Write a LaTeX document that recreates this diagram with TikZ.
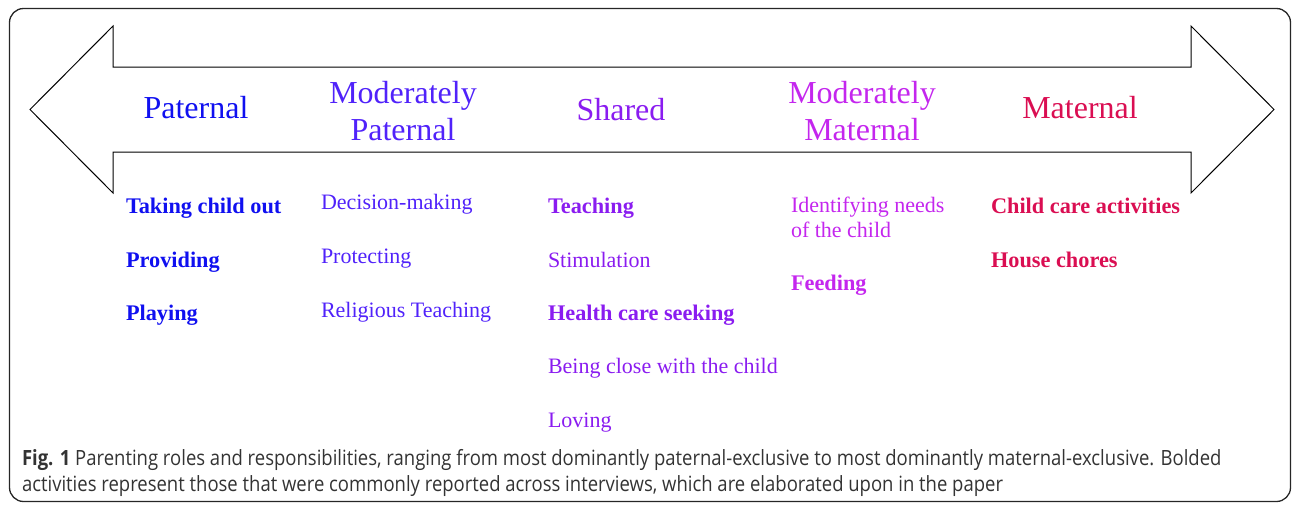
\documentclass[tikz,border=0pt]{standalone}
\usepackage{fontspec}
\setmainfont{Liberation Serif}
\newfontfamily\capfont[FakeStretch=0.88]{Open Sans}
\definecolor{cpat}{HTML}{1010F0}
\definecolor{cmpat}{HTML}{5022FA}
\definecolor{cshr}{HTML}{8A1CF0}
\definecolor{cmmat}{HTML}{C426EE}
\definecolor{cmat}{HTML}{DA0E52}
\definecolor{ccap}{HTML}{333333}
\begin{document}
\begin{tikzpicture}[x=1pt,y=-1pt,
  every node/.style={inner sep=0pt, outer sep=0pt},
  head/.style={font=\fontsize{32}{37}\selectfont, align=center, anchor=base},
  item/.style={font=\fontsize{22}{25}\selectfont, anchor=base west, align=left},
  bitem/.style={font=\fontsize{22.3}{25}\selectfont\bfseries, anchor=base west, align=left},
  captext/.style={font=\capfont\fontsize{21}{26}\selectfont, text=ccap, anchor=base west, align=left}]
\useasboundingbox (0,0) rectangle (1292,504);
% frame
\draw[line width=1.3pt, draw=black!85, rounded corners=14pt] (9.5,8.5) rectangle (1290.5,501.5);
% double arrow
\draw[line width=1pt, line join=miter] (30,109.5) -- (113,26) -- (113,67) -- (1191,67) -- (1191,26)
  -- (1274,109.5) -- (1191,193) -- (1191,152) -- (113,152) -- (113,193) -- cycle;
% headers
\node[head, text=cpat]  (hpat)  at (196,118) {Paternal};
\node[head, text=cmpat] (hmpat) at (403,140) {Moderately\\Paternal};
\node[head, text=cshr]  (hshr)  at (621,120) {Shared};
\node[head, text=cmmat] (hmmat) at (862,140) {Moderately\\Maternal};
\node[head, text=cmat]  (hmat)  at (1080,118) {Maternal};
% paternal
\node[bitem, text=cpat] (p1) at (126,213) {Taking child out};
\node[bitem, text=cpat] (p2) at (126,267) {Providing};
\node[bitem, text=cpat] (p3) at (126,320) {Playing};
% moderately paternal
\node[item, text=cmpat] (mp1) at (321,209) {Decision-making};
\node[item, text=cmpat] (mp2) at (321,263) {Protecting};
\node[item, text=cmpat] (mp3) at (321,317) {Religious Teaching};
% shared
\node[bitem, text=cshr] (s1) at (548,213) {Teaching};
\node[item, text=cshr]  (s2) at (548,267) {Stimulation};
\node[bitem, text=cshr] (s3) at (548,320) {Health care seeking};
\node[item, text=cshr]  (s4) at (548,373) {Being close with the child};
\node[item, text=cshr]  (s5) at (548,427) {Loving};
% moderately maternal
\node[item, text=cmmat]  (mm1) at (791,237) {Identifying needs\\of the child};
\node[bitem, text=cmmat] (mm2) at (791,290) {Feeding};
% maternal
\node[bitem, text=cmat] (m1) at (991,213) {Child care activities};
\node[bitem, text=cmat] (m2) at (991,267) {House chores};
% caption
\node[captext] (caption) at (22,491) {\textbf{Fig. 1} Parenting roles and responsibilities, ranging from most dominantly paternal-exclusive to most dominantly maternal-exclusive. Bolded\\activities represent those that were commonly reported across interviews, which are elaborated upon in the paper};
\end{tikzpicture}
\end{document}
